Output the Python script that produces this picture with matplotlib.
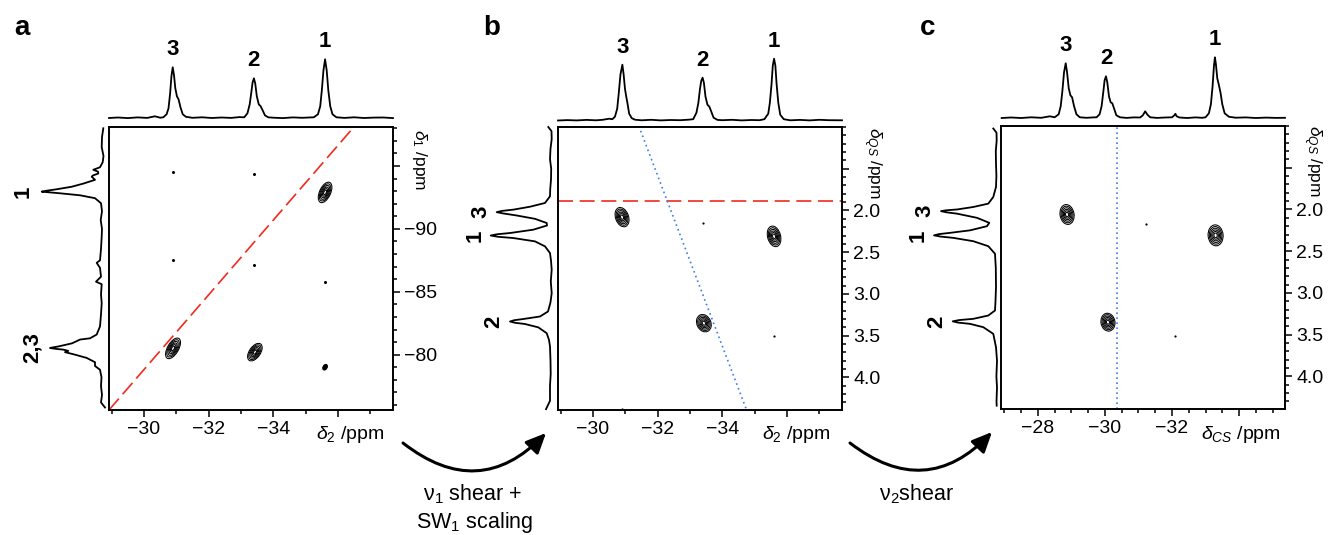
import numpy as np
import matplotlib
matplotlib.use('Agg')
import matplotlib.pyplot as plt
from matplotlib import transforms
from matplotlib.patches import Ellipse, FancyArrowPatch
from matplotlib.ticker import MultipleLocator

plt.rcParams['font.family'] = 'Liberation Sans'
plt.rcParams['mathtext.fontset'] = 'custom'
plt.rcParams['mathtext.rm'] = 'Liberation Sans'
plt.rcParams['mathtext.it'] = 'Liberation Sans:italic'
plt.rcParams['mathtext.bf'] = 'Liberation Sans:bold'

W, H = 1329, 535

# ---------------- data ----------------
# 1D projections: (ppm, intensity) pairs, intensity in arbitrary units
a_top = [(-28.92, 0.3), (-29.2, 0.8), (-29.5, 0.2), (-29.8, 0.9), (-30.1, 0.4), (-30.34, 2.0),
         (-30.5, 0.6), (-30.6, 1), (-30.7, 4), (-30.76, 10), (-30.81, 25), (-30.85, 42),
         (-30.89, 51), (-30.93, 43), (-30.97, 30), (-31.02, 22), (-31.07, 19), (-31.13, 11),
         (-31.2, 4), (-31.3, 1.5), (-31.5, 0.5), (-31.8, 1.0), (-32.1, 0.3), (-32.4, 0.8),
         (-32.7, 0.4), (-32.95, 1.2), (-33.1, 1), (-33.2, 5), (-33.27, 14), (-33.32, 26),
         (-33.36, 36), (-33.4, 40), (-33.44, 35), (-33.49, 22), (-33.55, 14), (-33.61, 12),
         (-33.67, 8), (-33.74, 3), (-33.84, 1), (-34.0, 0.6), (-34.3, 0.2), (-34.6, 0.9),
         (-34.9, 0.5), (-35.1, 0.8), (-35.25, 1), (-35.38, 4), (-35.45, 12), (-35.5, 28),
         (-35.55, 48), (-35.6, 59), (-35.65, 48), (-35.7, 28), (-35.76, 12), (-35.83, 4),
         (-35.95, 1), (-36.2, 0.4), (-36.5, 1.0), (-36.8, 0.3), (-37.1, 0.7), (-37.4, 0.8),
         (-37.7, 0.2)]
a_side = [(-98.0, 1.7), (-97.3, 3), (-96.5, 3.3), (-95.8, 1.5), (-95.3, 2.3), (-94.9, 5),
          (-94.7, 11.7), (-94.55, 7), (-94.4, 6.7), (-94.25, 12), (-94.15, 13.3), (-93.9, 10),
          (-93.6, 21.7), (-93.35, 33.3), (-93.15, 48.3), (-93.04, 58), (-92.96, 63.3),
          (-92.9, 55), (-92.83, 45), (-92.67, 25), (-92.44, 10), (-92.04, 4), (-91.4, 3),
          (-90.7, 4.3), (-90.0, 3), (-89.4, 3.3), (-88.4, 4), (-87.5, 5), (-87.3, 8.3),
          (-86.9, 5), (-86.2, 4), (-85.8, 9), (-85.6, 3.3), (-84.8, 4), (-84.1, 3.3), (-83.2, 4),
          (-82.25, 5), (-81.6, 8.3), (-81.3, 15), (-81.2, 25), (-80.9, 33), (-80.65, 46.7),
          (-80.58, 52), (-80.53, 55), (-80.47, 50), (-80.4, 41.7), (-80.3, 36.7), (-80.2, 40),
          (-80.0, 30), (-79.74, 18.3), (-79.4, 10), (-79.1, 10), (-78.8, 5), (-78.2, 3.5),
          (-77.5, 4), (-76.8, 3), (-76.2, 4), (-75.8, 0)]

b_top = [(-28.92, 0.2), (-29.2, 0.6), (-29.5, 0.3), (-29.8, 0.8), (-30.1, 0.4), (-30.3, 0.9),
         (-30.5, 2.0), (-30.6, 1.5), (-30.68, 4), (-30.75, 12), (-30.8, 28), (-30.85, 46),
         (-30.91, 56), (-30.95, 46), (-30.99, 32), (-31.03, 24), (-31.07, 17), (-31.12, 7),
         (-31.2, 2.5), (-31.3, 1), (-31.5, 0.4), (-31.8, 0.9), (-32.1, 0.3), (-32.4, 0.7),
         (-32.7, 0.5), (-32.95, 1.0), (-33.1, 1.5), (-33.2, 8), (-33.26, 18), (-33.31, 32),
         (-33.35, 40), (-33.39, 43), (-33.43, 38), (-33.48, 24), (-33.54, 16), (-33.6, 14),
         (-33.66, 9), (-33.73, 3), (-33.85, 0.8), (-34.0, 0.5), (-34.3, 0.9), (-34.6, 0.3),
         (-34.9, 0.7), (-35.15, 0.5), (-35.3, 1.5), (-35.42, 7), (-35.47, 18), (-35.52, 36),
         (-35.56, 55), (-35.6, 62), (-35.64, 55), (-35.68, 36), (-35.73, 18), (-35.79, 6),
         (-35.9, 1.5), (-36.1, 0.4), (-36.4, 0.8), (-36.7, 0.3), (-37.0, 0.9), (-37.3, 0.5),
         (-37.7, 0.4)]
b_side = [(1.0, 4.7), (1.05, 1.5), (1.145, 1.3), (1.26, 2.5), (1.385, 3), (1.5, 1.8), (1.63, 2),
          (1.75, 2.8), (1.83, 3), (1.91, 8), (1.955, 23), (1.99, 39.7), (2.005, 51), (2.02, 56.3),
          (2.035, 50), (2.06, 36.3), (2.1, 18), (2.15, 6.3), (2.18, 6), (2.23, 19.7), (2.27, 43),
          (2.285, 56), (2.30, 62.3), (2.315, 55), (2.33, 39.7), (2.37, 18), (2.43, 8), (2.51, 3),
          (2.6, 2), (2.71, 1.3), (2.85, 2.2), (2.99, 1.3), (3.1, 2.5), (3.21, 5), (3.27, 13),
          (3.30, 29.7), (3.315, 39), (3.33, 43), (3.345, 38), (3.36, 28), (3.40, 14.7),
          (3.47, 6.3), (3.55, 4), (3.63, 3), (3.8, 2.5), (3.96, 2.3), (4.1, 3), (4.28, 3),
          (4.38, 7)]

c_top = [(-26.92, 0.3), (-27.2, 0.8), (-27.5, 0.3), (-27.8, 1.0), (-28.1, 0.5), (-28.36, 2.0),
         (-28.5, 1), (-28.62, 4), (-28.68, 12), (-28.73, 27), (-28.78, 46), (-28.83, 55),
         (-28.87, 46), (-28.92, 30), (-28.97, 23), (-29.02, 21), (-29.08, 12), (-29.15, 4),
         (-29.25, 1), (-29.45, 0.5), (-29.65, 0.9), (-29.75, 1), (-29.84, 4), (-29.9, 12),
         (-29.95, 26), (-29.99, 38), (-30.03, 42), (-30.07, 36), (-30.12, 22), (-30.17, 16),
         (-30.22, 15), (-30.28, 9), (-30.34, 3), (-30.45, 1), (-30.65, 0.4), (-30.85, 0.9),
         (-31.05, 0.8), (-31.13, 3), (-31.2, 7), (-31.27, 3.5), (-31.35, 1), (-31.55, 0.4),
         (-31.8, 0.8), (-32.0, 1), (-32.07, 3), (-32.1, 4.5), (-32.14, 2), (-32.22, 0.8),
         (-32.45, 0.3), (-32.7, 0.9), (-32.9, 0.5), (-33.0, 1), (-33.1, 5), (-33.16, 14),
         (-33.21, 32), (-33.25, 52), (-33.28, 61), (-33.31, 54), (-33.35, 40), (-33.4, 33),
         (-33.45, 25), (-33.5, 14), (-33.57, 5), (-33.7, 1.5), (-33.9, 0.6), (-34.2, 0.9),
         (-34.5, 0.3), (-34.8, 0.7), (-35.1, 0.4), (-35.37, 0.5)]
c_side = [(1.03, 3.7), (1.08, 0.5), (1.17, 0.3), (1.3, 1.2), (1.45, 1), (1.6, 0.6), (1.73, 1),
          (1.85, 3.7), (1.93, 8.7), (1.97, 23.7), (2.0, 40), (2.01, 51), (2.02, 56), (2.035, 50),
          (2.05, 40), (2.1, 20), (2.16, 7.7), (2.2, 10), (2.25, 27), (2.28, 47), (2.295, 58),
          (2.31, 63), (2.325, 56), (2.34, 43.7), (2.38, 23.7), (2.44, 8.7), (2.53, 2), (2.7, 1.2),
          (2.93, 1), (3.1, 1.5), (3.21, 2), (3.27, 8.7), (3.31, 23.7), (3.325, 38), (3.34, 44.3),
          (3.355, 39), (3.37, 27), (3.41, 13.7), (3.49, 3.7), (3.65, 1), (3.81, 0), (4.0, 0.6),
          (4.13, 0), (4.3, 0.5), (4.35, 0.3)]

# cross peaks: x, y (ppm), extent (px) and tilt (deg)
a_peak_x = [-35.6, -30.9, -33.43, -35.6]
a_peak_y = [-92.9, -80.5, -80.2, -79.0]
a_peak_w = [11, 11, 11, 4]
a_peak_h = [22, 23, 20, 6]
a_peak_tilt = [-25, -30, -35, -30]
a_dot_x = [-30.9, -33.4, -30.9, -33.4, -35.6]
a_dot_y = [-94.5, -94.4, -87.5, -87.1, -85.8]

b_peak_x = [-30.9, -35.6, -33.43]
b_peak_y = [2.08, 2.31, 3.35]
b_peak_w = [13, 13, 14]
b_peak_h = [20, 21, 18]
b_peak_tilt = [20, 15, 25]
b_dot_x = [-33.4, -35.6, -30.9]
b_dot_y = [2.15, 3.5, 4.38]

c_peak_x = [-28.87, -30.09, -33.3]
c_peak_y = [2.06, 3.35, 2.31]
c_peak_w = [14, 14, 15]
c_peak_h = [20, 18, 21]
c_peak_tilt = [10, 10, 5]
c_dot_x = [-31.22, -32.09]
c_dot_y = [2.17, 3.51]

# guide lines
a_diag_x = [-28.92, -36.49]
a_diag_y = [-75.6, -98.1]
b_hline_y = 1.89
b_shear_x = [-31.42, -34.76]
b_shear_y = [0.99, 4.4]
c_vline_x = -30.36

# peak labels
a_top_lab, a_top_lab_ppm = ['3', '2', '1'], [-30.89, -33.4, -35.6]
b_top_lab, b_top_lab_ppm = ['3', '2', '1'], [-30.91, -33.39, -35.6]
c_top_lab, c_top_lab_ppm = ['3', '2', '1'], [-28.83, -30.03, -33.28]
a_side_lab, a_side_lab_ppm = ['1', '2,3'], [-92.96, -80.53]
b_side_lab, b_side_lab_ppm = ['3', '1', '2'], [2.02, 2.30, 3.33]
c_side_lab, c_side_lab_ppm = ['3', '1', '2'], [2.02, 2.31, 3.34]

# axes ranges and ticks
ab_xlim = (-28.92, -37.7)
c_xlim = (-26.9, -35.37)
a_ylim = (-75.6, -98.1)
bc_ylim = (4.39, 1.0)
ab_xticks = [-30, -32, -34, -36]
ab_xticklabels = ['\u221230', '\u221232', '\u221234', '']
c_xticks = [-28, -30, -32, -34]
c_xticklabels = ['\u221228', '\u221230', '\u221232', '']
a_yticks = [-95, -90, -85, -80]
a_yticklabels = ['', '\u221290', '\u221285', '\u221280']
bc_yticks = [1.5, 2.0, 2.5, 3.0, 3.5, 4.0]
bc_yticklabels = ['', '2.0', '2.5', '3.0', '3.5', '4.0']

RED = '#f02a1e'
BLUE = '#3f7cf0'

fig = plt.figure(figsize=(W / 100, H / 100), dpi=100)
fig.patch.set_facecolor('white')


def px_axes(x0, y0, x1, y1):
    return fig.add_axes([x0 / W, 1 - y1 / H, (x1 - x0) / W, (y1 - y0) / H])


def make_frame(box, xlim, ylim, xt, xtl, xminor, yt, ytl, yminor):
    ax = px_axes(*box)
    ax.set_xlim(xlim)
    ax.set_ylim(ylim)
    ax.set_xticks(xt, labels=xtl)
    ax.set_yticks(yt, labels=ytl)
    ax.xaxis.set_minor_locator(MultipleLocator(xminor))
    ax.yaxis.set_minor_locator(MultipleLocator(yminor))
    ax.xaxis.tick_bottom()
    ax.yaxis.tick_right()
    ax.tick_params(which='both', direction='out', width=1.1, labelsize=14)
    ax.tick_params(which='major', length=5, pad=3)
    ax.tick_params(which='minor', length=3)
    for s in ax.spines.values():
        s.set_linewidth(1.4)
    return ax


def cross_peaks(ax, xs, ys, ws, hs, tilts):
    for x, y, w, h, t in zip(xs, ys, ws, hs, tilts):
        tr = fig.dpi_scale_trans + transforms.ScaledTranslation(x, y, ax.transData)
        for k in (1.0, 0.84, 0.68, 0.52, 0.37, 0.22):
            ax.add_patch(Ellipse((0, 0), w * k / 100, h * k / 100, angle=t, transform=tr,
                                 fill=False, lw=0.75, ec='black'))


def top_spec(box, xlim, data, base_px, labels, lab_ppm):
    ax = px_axes(box[0], 48, box[2], 122)
    ppm, inten = np.array(data).T
    ax.plot(ppm, inten, color='black', lw=1.3, clip_on=False)
    ax.set_xlim(xlim)
    ax.set_ylim(base_px - 122, base_px - 48)
    ax.set_axis_off()
    for lab, p in zip(labels, lab_ppm):
        h = np.interp(p, ppm[::-1], inten[::-1])
        ax.annotate(lab, (p, h), xytext=(0, 8.5), textcoords='offset points',
                    ha='center', va='baseline', fontsize=16, fontweight='bold')
    return ax


def side_spec(x0, x1, box, ylim, data, zero_px, labels, lab_ppm, gap):
    ax = px_axes(x0, box[1], x1, box[3])
    ppm, inten = np.array(data).T
    ax.plot(inten, ppm, color='black', lw=1.3, clip_on=False)
    ax.set_xlim(zero_px - x0, zero_px - x1)
    ax.set_ylim(ylim)
    ax.set_axis_off()
    for lab, p in zip(labels, lab_ppm):
        h = np.interp(p, ppm, inten)
        ax.annotate(lab, (h, p), xytext=(-gap, 0), textcoords='offset points',
                    ha='right', va='center', rotation=90, fontsize=16, fontweight='bold')
    return ax


def bend_arrow(p0, p1):
    arr = FancyArrowPatch((p0[0] / W, 1 - p0[1] / H), (p1[0] / W, 1 - p1[1] / H),
                          transform=fig.transFigure, connectionstyle='arc3,rad=0.45',
                          arrowstyle='-|>,head_length=0.55,head_width=0.25',
                          mutation_scale=22, lw=2.2, color='black', shrinkA=0, shrinkB=0)
    fig.add_artist(arr)


def ftext(x, y, s, **kw):
    fig.text(x / W, 1 - y / H, s, **kw)


# ---------------- panel a ----------------
box_a = (109, 127, 393, 410)
ax_a = make_frame(box_a, ab_xlim, a_ylim, ab_xticks, ab_xticklabels, 1,
                  a_yticks, a_yticklabels, 1)
ax_a.plot(a_diag_x, a_diag_y, color=RED, lw=1.2, dashes=(9, 3.5))
cross_peaks(ax_a, a_peak_x, a_peak_y, a_peak_w, a_peak_h, a_peak_tilt)
ax_a.plot(a_dot_x, a_dot_y, 'o', ms=2.2, color='black', mec='none')
top_spec(box_a, ab_xlim, a_top, 118.3, a_top_lab, a_top_lab_ppm)
side_spec(35, 108, box_a, a_ylim, a_side, 105, a_side_lab, a_side_lab_ppm, 5.5)

# ---------------- panel b ----------------
box_b = (558, 127, 842, 410)
ax_b = make_frame(box_b, ab_xlim, bc_ylim, ab_xticks, ab_xticklabels, 1,
                  bc_yticks, bc_yticklabels, 0.1)
ax_b.axhline(b_hline_y, color=RED, lw=1.2, dashes=(9, 4))
ax_b.plot(b_shear_x, b_shear_y, color=BLUE, lw=1.2, linestyle=(0, (1, 2)))
cross_peaks(ax_b, b_peak_x, b_peak_y, b_peak_w, b_peak_h, b_peak_tilt)
ax_b.plot(b_dot_x, b_dot_y, 'o', ms=1.6, color='black', mec='none')
top_spec(box_b, ab_xlim, b_top, 120.7, b_top_lab, b_top_lab_ppm)
side_spec(485, 556, box_b, bc_ylim, b_side, 553, b_side_lab, b_side_lab_ppm, 4)

# ---------------- panel c ----------------
box_c = (1001, 126, 1285, 409)
ax_c = make_frame(box_c, c_xlim, bc_ylim, c_xticks, c_xticklabels, 0.5,
                  bc_yticks, bc_yticklabels, 0.1)
ax_c.axvline(c_vline_x, color=BLUE, lw=1.2, linestyle=(0, (1, 2)))
cross_peaks(ax_c, c_peak_x, c_peak_y, c_peak_w, c_peak_h, c_peak_tilt)
ax_c.plot(c_dot_x, c_dot_y, 'o', ms=1.6, color='black', mec='none')
top_spec(box_c, c_xlim, c_top, 118.3, c_top_lab, c_top_lab_ppm)
side_spec(928, 1000, box_c, bc_ylim, c_side, 997, c_side_lab, c_side_lab_ppm, 3.8)

# axis titles
ftext(316, 439, r'$\delta_2$ /ppm', ha='left', va='baseline', fontsize=14)
ftext(762, 439, r'$\delta_2$ /ppm', ha='left', va='baseline', fontsize=14)
ftext(1201, 439, r'$\delta_{CS}$ /ppm', ha='left', va='baseline', fontsize=14)
ftext(420, 129, r'$\delta_1$ /ppm', ha='center', va='top', rotation=270, fontsize=12.5)
ftext(872, 127, r'$\delta_{QS}$ /ppm', ha='center', va='top', rotation=270, fontsize=12.5)
ftext(1312, 125, r'$\delta_{QS}$ /ppm', ha='center', va='top', rotation=270, fontsize=12.5)

# panel letters
for letter, x in zip(['a', 'b', 'c'], [22, 492, 928]):
    ftext(x, 28, letter, ha='center', va='center', fontsize=20, fontweight='bold')

# transformation arrows
bend_arrow((403, 443), (546, 433))
bend_arrow((850, 443), (992, 432))
ftext(473, 500, '\u03bd$_1$ shear +', ha='center', va='baseline', fontsize=15.5)
ftext(475, 528, 'SW$_1$ scaling', ha='center', va='baseline', fontsize=15.5)
ftext(917, 500, '\u03bd$_2$shear', ha='center', va='baseline', fontsize=15.5)

fig.savefig('out.png', dpi=100)
